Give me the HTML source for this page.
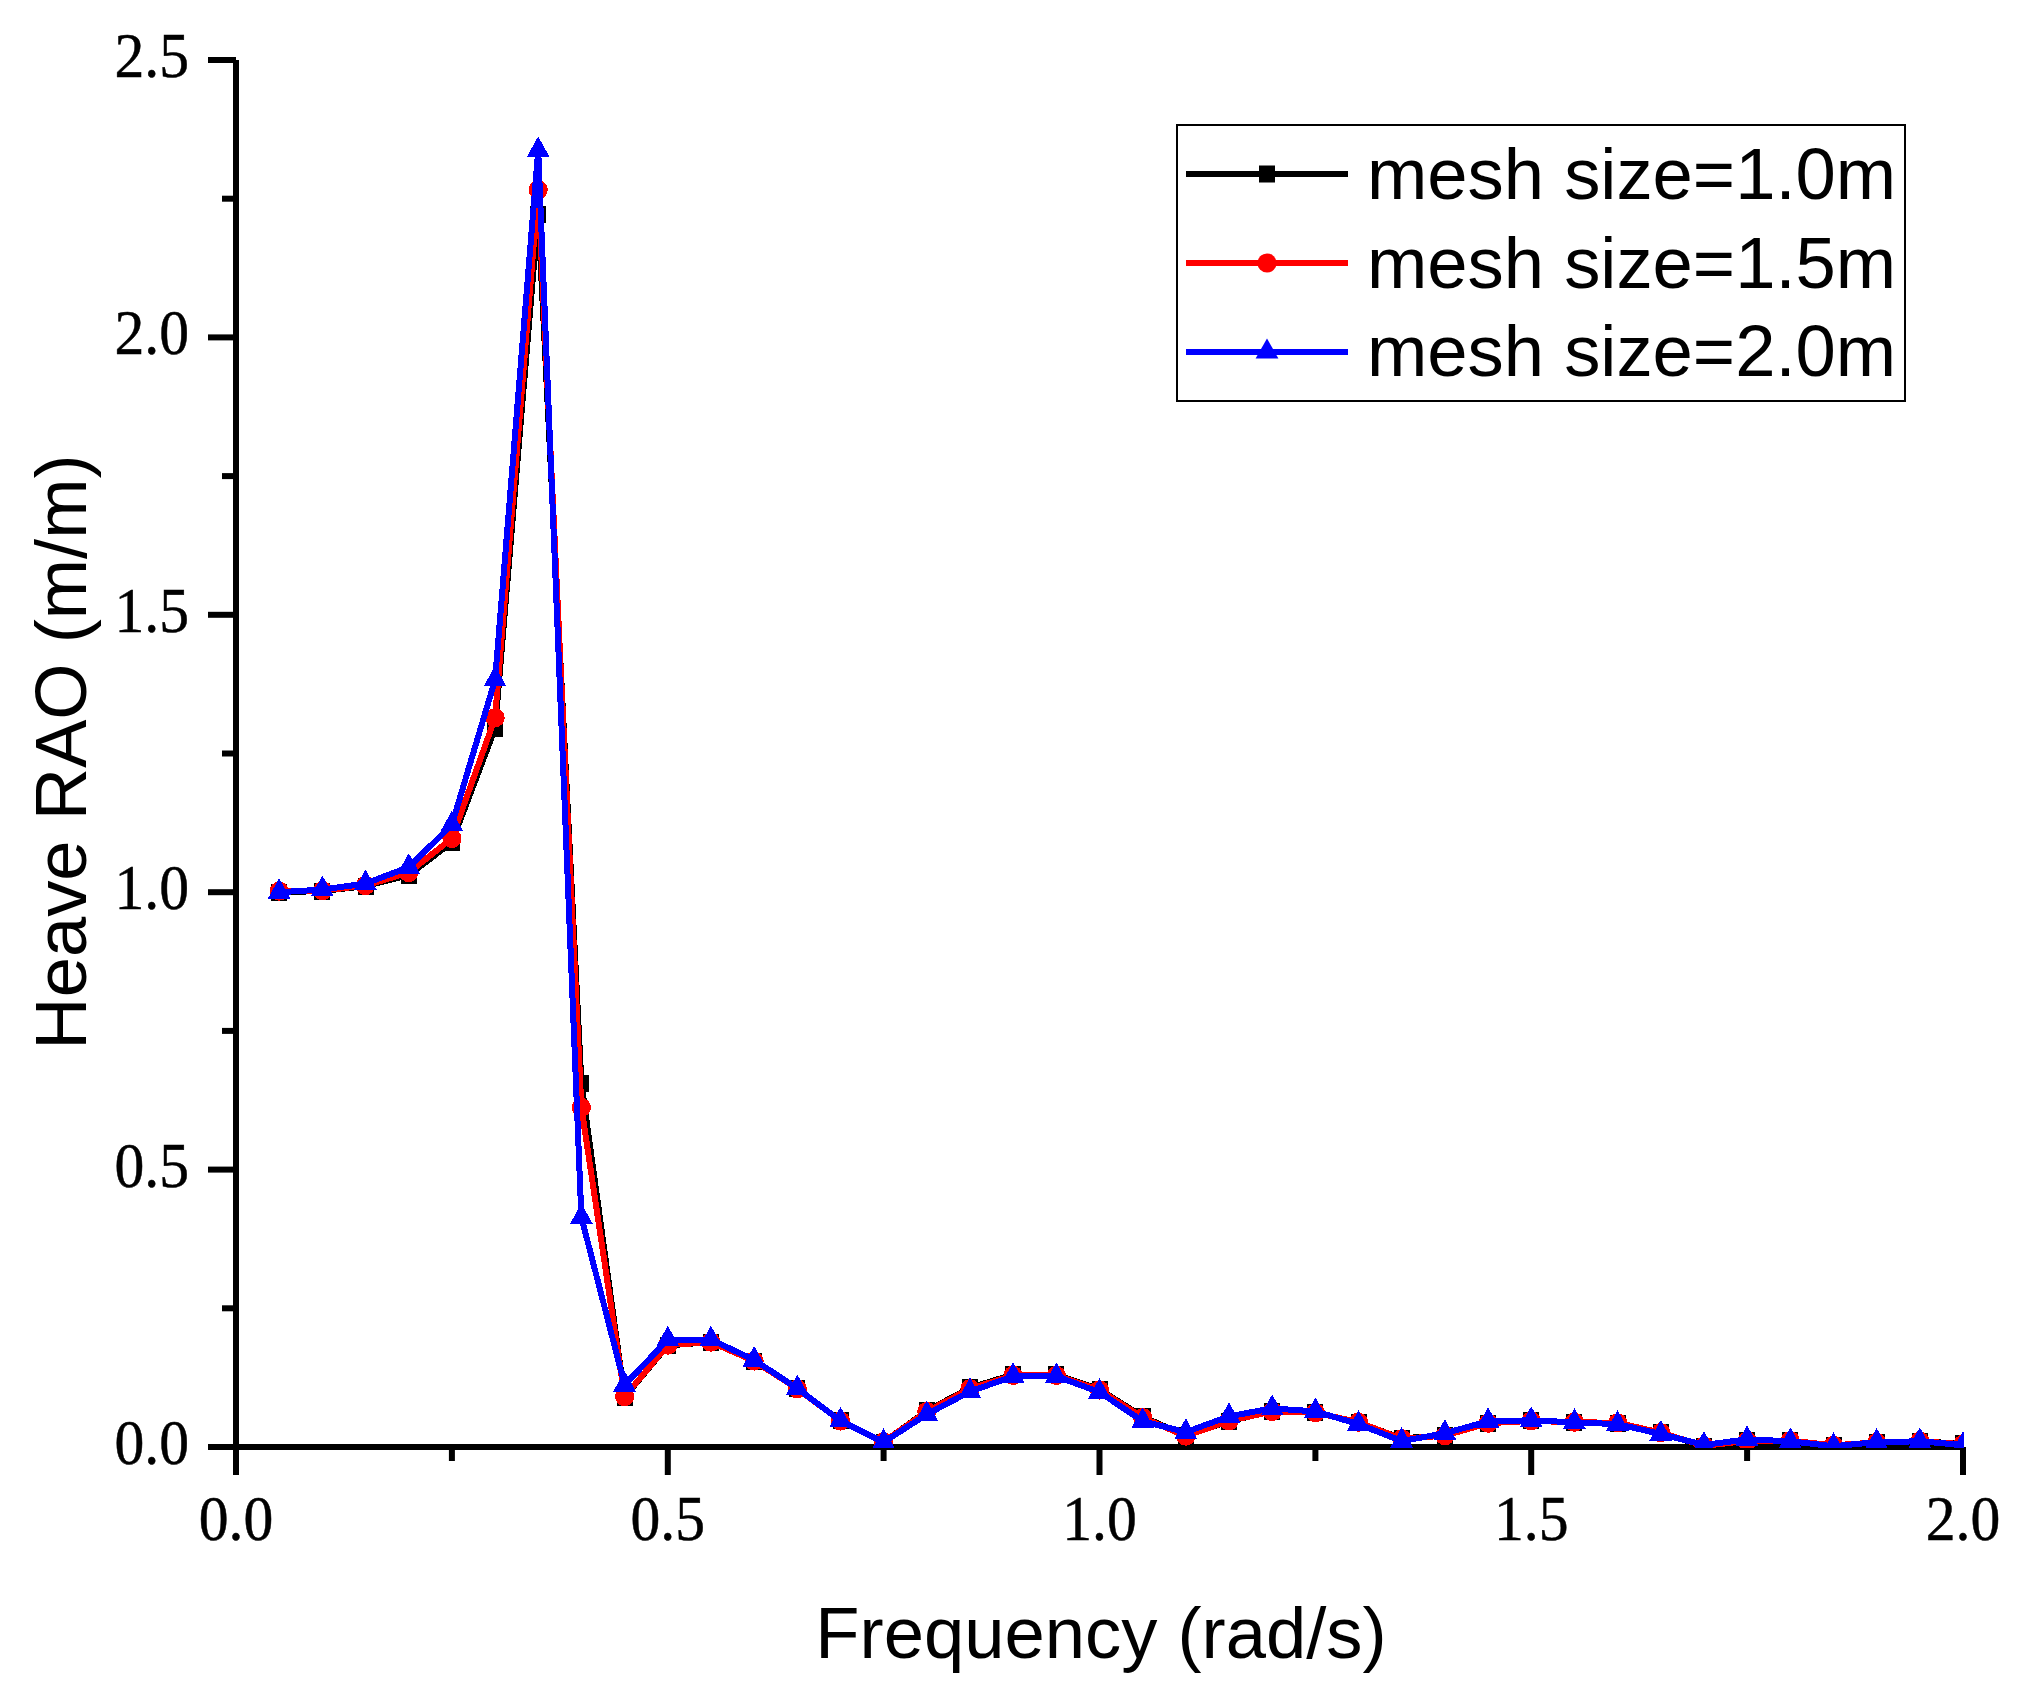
<!DOCTYPE html>
<html lang="en"><head><meta charset="utf-8"><title>Heave RAO mesh convergence</title>
<style>
html,body{margin:0;padding:0;background:#fff;}
body{width:2019px;height:1700px;overflow:hidden;}
svg{display:block;}
.ser{font-family:"Liberation Serif","Times New Roman",serif;font-size:64.3px;fill:#000;stroke:#000;stroke-width:0.5px;}
.san{font-family:"Liberation Sans",Arial,sans-serif;font-size:72.4px;fill:#000;}
</style></head><body>
<svg width="2019" height="1700" viewBox="0 0 2019 1700">
<rect width="2019" height="1700" fill="#fff"/>

<g stroke="#000" stroke-width="6" fill="none">
<line x1="236" y1="60" x2="236" y2="1475"/>
<line x1="208" y1="1447" x2="1963" y2="1447"/>
<line x1="222" y1="1308.3" x2="236" y2="1308.3"/>
<line x1="208" y1="1169.6" x2="236" y2="1169.6"/>
<line x1="222" y1="1030.9" x2="236" y2="1030.9"/>
<line x1="208" y1="892.2" x2="236" y2="892.2"/>
<line x1="222" y1="753.5" x2="236" y2="753.5"/>
<line x1="208" y1="614.8" x2="236" y2="614.8"/>
<line x1="222" y1="476.1" x2="236" y2="476.1"/>
<line x1="208" y1="337.4" x2="236" y2="337.4"/>
<line x1="222" y1="198.7" x2="236" y2="198.7"/>
<line x1="208" y1="60.0" x2="236" y2="60.0"/>
<line x1="451.9" y1="1447" x2="451.9" y2="1461"/>
<line x1="667.8" y1="1447" x2="667.8" y2="1475"/>
<line x1="883.6" y1="1447" x2="883.6" y2="1461"/>
<line x1="1099.5" y1="1447" x2="1099.5" y2="1475"/>
<line x1="1315.4" y1="1447" x2="1315.4" y2="1461"/>
<line x1="1531.2" y1="1447" x2="1531.2" y2="1475"/>
<line x1="1747.1" y1="1447" x2="1747.1" y2="1461"/>
<line x1="1963.0" y1="1447" x2="1963.0" y2="1475"/>
</g>
<g class="ser" text-anchor="end">
<text transform="translate(189 1464.0) scale(0.928 1)">0.0</text>
<text transform="translate(189 1186.6) scale(0.928 1)">0.5</text>
<text transform="translate(189 909.2) scale(0.928 1)">1.0</text>
<text transform="translate(189 631.8) scale(0.928 1)">1.5</text>
<text transform="translate(189 354.4) scale(0.928 1)">2.0</text>
<text transform="translate(189 77.0) scale(0.928 1)">2.5</text>
</g>
<g class="ser" text-anchor="middle">
<text transform="translate(236.0 1540) scale(0.928 1)">0.0</text>
<text transform="translate(667.8 1540) scale(0.928 1)">0.5</text>
<text transform="translate(1099.5 1540) scale(0.928 1)">1.0</text>
<text transform="translate(1531.2 1540) scale(0.928 1)">1.5</text>
<text transform="translate(1963.0 1540) scale(0.928 1)">2.0</text>
</g>
<text class="san" x="1101" y="1658" text-anchor="middle">Frequency (rad/s)</text>
<text class="san" transform="translate(86 752) rotate(-90)" text-anchor="middle">Heave RAO (m/m)</text>
<defs><clipPath id="plotclip"><rect x="236" y="60" width="1728" height="1388"/></clipPath></defs>
<g clip-path="url(#plotclip)" shape-rendering="crispEdges">
<polyline points="279.2,892.2 322.4,891.1 365.5,886.1 408.7,875.2 451.9,842.3 495.1,728.4 538.2,214.2 581.4,1083.3 624.6,1397.1 667.8,1345.5 710.9,1342.1 754.1,1361.0 797.3,1388.7 840.5,1420.9 883.6,1442.0 926.8,1410.9 970.0,1387.8 1013.1,1374.5 1056.3,1374.5 1099.5,1389.4 1142.7,1416.5 1185.8,1435.9 1229.0,1421.3 1272.2,1411.3 1315.4,1412.3 1358.5,1422.6 1401.7,1438.3 1444.9,1435.3 1488.1,1423.1 1531.2,1420.9 1574.4,1422.2 1617.6,1423.1 1660.8,1432.6 1704.0,1446.4 1747.1,1440.5 1790.3,1440.5 1833.5,1445.5 1876.7,1442.4 1919.8,1441.2 1963.0,1443.9" fill="none" stroke="#000" stroke-width="6" stroke-linejoin="round"/>
<g fill="#000"><rect x="271.2" y="883.7" width="16" height="17"/><rect x="314.4" y="882.6" width="16" height="17"/><rect x="357.5" y="877.6" width="16" height="17"/><rect x="400.7" y="866.7" width="16" height="17"/><rect x="443.9" y="833.8" width="16" height="17"/><rect x="487.1" y="719.9" width="16" height="17"/><rect x="530.2" y="205.7" width="16" height="17"/><rect x="573.4" y="1074.8" width="16" height="17"/><rect x="616.6" y="1388.6" width="16" height="17"/><rect x="659.8" y="1337.0" width="16" height="17"/><rect x="702.9" y="1333.6" width="16" height="17"/><rect x="746.1" y="1352.5" width="16" height="17"/><rect x="789.3" y="1380.2" width="16" height="17"/><rect x="832.5" y="1412.4" width="16" height="17"/><rect x="875.6" y="1433.5" width="16" height="17"/><rect x="918.8" y="1402.4" width="16" height="17"/><rect x="962.0" y="1379.3" width="16" height="17"/><rect x="1005.1" y="1366.0" width="16" height="17"/><rect x="1048.3" y="1366.0" width="16" height="17"/><rect x="1091.5" y="1380.9" width="16" height="17"/><rect x="1134.7" y="1408.0" width="16" height="17"/><rect x="1177.8" y="1427.4" width="16" height="17"/><rect x="1221.0" y="1412.8" width="16" height="17"/><rect x="1264.2" y="1402.8" width="16" height="17"/><rect x="1307.4" y="1403.8" width="16" height="17"/><rect x="1350.5" y="1414.1" width="16" height="17"/><rect x="1393.7" y="1429.8" width="16" height="17"/><rect x="1436.9" y="1426.8" width="16" height="17"/><rect x="1480.1" y="1414.6" width="16" height="17"/><rect x="1523.2" y="1412.4" width="16" height="17"/><rect x="1566.4" y="1413.7" width="16" height="17"/><rect x="1609.6" y="1414.6" width="16" height="17"/><rect x="1652.8" y="1424.1" width="16" height="17"/><rect x="1696.0" y="1437.9" width="16" height="17"/><rect x="1739.1" y="1432.0" width="16" height="17"/><rect x="1782.3" y="1432.0" width="16" height="17"/><rect x="1825.5" y="1437.0" width="16" height="17"/><rect x="1868.7" y="1433.9" width="16" height="17"/><rect x="1911.8" y="1432.7" width="16" height="17"/><rect x="1955.0" y="1435.4" width="16" height="17"/></g>
<polyline points="279.2,891.1 322.4,890.7 365.5,885.5 408.7,872.6 451.9,838.4 495.1,717.7 538.2,189.8 581.4,1107.5 624.6,1396.6 667.8,1345.1 710.9,1342.1 754.1,1361.0 797.3,1388.7 840.5,1420.9 883.6,1442.0 926.8,1411.5 970.0,1388.7 1013.1,1375.4 1056.3,1375.4 1099.5,1389.9 1142.7,1417.6 1185.8,1436.1 1229.0,1420.9 1272.2,1411.5 1315.4,1412.6 1358.5,1422.2 1401.7,1438.7 1444.9,1435.7 1488.1,1423.2 1531.2,1420.9 1574.4,1422.2 1617.6,1422.8 1660.8,1432.6 1704.0,1445.9 1747.1,1440.9 1790.3,1440.6 1833.5,1445.3 1876.7,1442.4 1919.8,1441.2 1963.0,1444.2" fill="none" stroke="#f00" stroke-width="6" stroke-linejoin="round"/>
<g fill="#f00"><circle cx="279.2" cy="891.1" r="9.6"/><circle cx="322.4" cy="890.7" r="9.6"/><circle cx="365.5" cy="885.5" r="9.6"/><circle cx="408.7" cy="872.6" r="9.6"/><circle cx="451.9" cy="838.4" r="9.6"/><circle cx="495.1" cy="717.7" r="9.6"/><circle cx="538.2" cy="189.8" r="9.6"/><circle cx="581.4" cy="1107.5" r="9.6"/><circle cx="624.6" cy="1396.6" r="9.6"/><circle cx="667.8" cy="1345.1" r="9.6"/><circle cx="710.9" cy="1342.1" r="9.6"/><circle cx="754.1" cy="1361.0" r="9.6"/><circle cx="797.3" cy="1388.7" r="9.6"/><circle cx="840.5" cy="1420.9" r="9.6"/><circle cx="883.6" cy="1442.0" r="9.6"/><circle cx="926.8" cy="1411.5" r="9.6"/><circle cx="970.0" cy="1388.7" r="9.6"/><circle cx="1013.1" cy="1375.4" r="9.6"/><circle cx="1056.3" cy="1375.4" r="9.6"/><circle cx="1099.5" cy="1389.9" r="9.6"/><circle cx="1142.7" cy="1417.6" r="9.6"/><circle cx="1185.8" cy="1436.1" r="9.6"/><circle cx="1229.0" cy="1420.9" r="9.6"/><circle cx="1272.2" cy="1411.5" r="9.6"/><circle cx="1315.4" cy="1412.6" r="9.6"/><circle cx="1358.5" cy="1422.2" r="9.6"/><circle cx="1401.7" cy="1438.7" r="9.6"/><circle cx="1444.9" cy="1435.7" r="9.6"/><circle cx="1488.1" cy="1423.2" r="9.6"/><circle cx="1531.2" cy="1420.9" r="9.6"/><circle cx="1574.4" cy="1422.2" r="9.6"/><circle cx="1617.6" cy="1422.8" r="9.6"/><circle cx="1660.8" cy="1432.6" r="9.6"/><circle cx="1704.0" cy="1445.9" r="9.6"/><circle cx="1747.1" cy="1440.9" r="9.6"/><circle cx="1790.3" cy="1440.6" r="9.6"/><circle cx="1833.5" cy="1445.3" r="9.6"/><circle cx="1876.7" cy="1442.4" r="9.6"/><circle cx="1919.8" cy="1441.2" r="9.6"/><circle cx="1963.0" cy="1444.2" r="9.6"/></g>
<polyline points="279.2,892.2 322.4,889.6 365.5,883.5 408.7,867.2 451.9,824.7 495.1,679.7 538.2,150.4 581.4,1217.3 624.6,1384.9 667.8,1339.6 710.9,1339.6 754.1,1359.9 797.3,1388.5 840.5,1420.8 883.6,1442.2 926.8,1414.3 970.0,1391.6 1013.1,1376.3 1056.3,1376.3 1099.5,1392.1 1142.7,1421.3 1185.8,1432.2 1229.0,1416.3 1272.2,1408.4 1315.4,1411.4 1358.5,1424.2 1401.7,1441.1 1444.9,1433.2 1488.1,1421.3 1531.2,1420.3 1574.4,1422.3 1617.6,1424.2 1660.8,1434.0 1704.0,1445.0 1747.1,1439.3 1790.3,1441.3 1833.5,1446.2 1876.7,1442.1 1919.8,1441.3 1963.0,1445.0" fill="none" stroke="#00f" stroke-width="6" stroke-linejoin="round"/>
<g fill="#00f"><path d="M279.2 878.2L290.6 898.8H267.8Z"/><path d="M322.4 875.6L333.8 896.2H311.0Z"/><path d="M365.5 869.5L376.9 890.1H354.1Z"/><path d="M408.7 853.2L420.1 873.8H397.3Z"/><path d="M451.9 810.7L463.3 831.3H440.5Z"/><path d="M495.1 665.7L506.4 686.3H483.7Z"/><path d="M538.2 136.4L549.6 157.0H526.8Z"/><path d="M581.4 1203.3L592.8 1223.9H570.0Z"/><path d="M624.6 1370.9L636.0 1391.5H613.2Z"/><path d="M667.8 1325.6L679.1 1346.2H656.4Z"/><path d="M710.9 1325.6L722.3 1346.2H699.5Z"/><path d="M754.1 1345.9L765.5 1366.5H742.7Z"/><path d="M797.3 1374.5L808.7 1395.1H785.9Z"/><path d="M840.5 1406.8L851.9 1427.4H829.1Z"/><path d="M883.6 1428.2L895.0 1448.8H872.2Z"/><path d="M926.8 1400.3L938.2 1420.9H915.4Z"/><path d="M970.0 1377.6L981.4 1398.2H958.6Z"/><path d="M1013.1 1362.3L1024.5 1382.9H1001.8Z"/><path d="M1056.3 1362.3L1067.7 1382.9H1044.9Z"/><path d="M1099.5 1378.1L1110.9 1398.7H1088.1Z"/><path d="M1142.7 1407.3L1154.1 1427.9H1131.3Z"/><path d="M1185.8 1418.2L1197.2 1438.8H1174.4Z"/><path d="M1229.0 1402.3L1240.4 1422.9H1217.6Z"/><path d="M1272.2 1394.4L1283.6 1415.0H1260.8Z"/><path d="M1315.4 1397.4L1326.8 1418.0H1304.0Z"/><path d="M1358.5 1410.2L1370.0 1430.8H1347.1Z"/><path d="M1401.7 1427.1L1413.1 1447.7H1390.3Z"/><path d="M1444.9 1419.2L1456.3 1439.8H1433.5Z"/><path d="M1488.1 1407.3L1499.5 1427.9H1476.7Z"/><path d="M1531.2 1406.3L1542.7 1426.9H1519.8Z"/><path d="M1574.4 1408.3L1585.8 1428.9H1563.0Z"/><path d="M1617.6 1410.2L1629.0 1430.8H1606.2Z"/><path d="M1660.8 1420.0L1672.2 1440.6H1649.4Z"/><path d="M1704.0 1431.0L1715.4 1451.6H1692.5Z"/><path d="M1747.1 1425.3L1758.5 1445.9H1735.7Z"/><path d="M1790.3 1427.3L1801.7 1447.9H1778.9Z"/><path d="M1833.5 1432.2L1844.9 1452.8H1822.1Z"/><path d="M1876.7 1428.1L1888.1 1448.7H1865.2Z"/><path d="M1919.8 1427.3L1931.2 1447.9H1908.4Z"/><path d="M1963.0 1431.0L1974.4 1451.6H1951.6Z"/></g>
</g>
<rect x="1177" y="125" width="728" height="276" fill="#fff" stroke="#000" stroke-width="2" shape-rendering="crispEdges"/>
<line x1="1186" y1="174" x2="1348" y2="174" stroke="#000" stroke-width="6" shape-rendering="crispEdges"/>
<rect x="1259" y="165.5" width="16" height="17" fill="#000"/>
<text class="san" x="1367" y="199">mesh size=1.0m</text>
<line x1="1186" y1="263" x2="1348" y2="263" stroke="#f00" stroke-width="6" shape-rendering="crispEdges"/>
<circle cx="1267" cy="263" r="9.6" fill="#f00"/>
<text class="san" x="1367" y="288">mesh size=1.5m</text>
<line x1="1186" y1="352" x2="1348" y2="352" stroke="#00f" stroke-width="6" shape-rendering="crispEdges"/>
<path d="M1267 338.4L1278.4 358.4H1255.6Z" fill="#00f"/>
<text class="san" x="1367" y="376">mesh size=2.0m</text>
</svg></body></html>
